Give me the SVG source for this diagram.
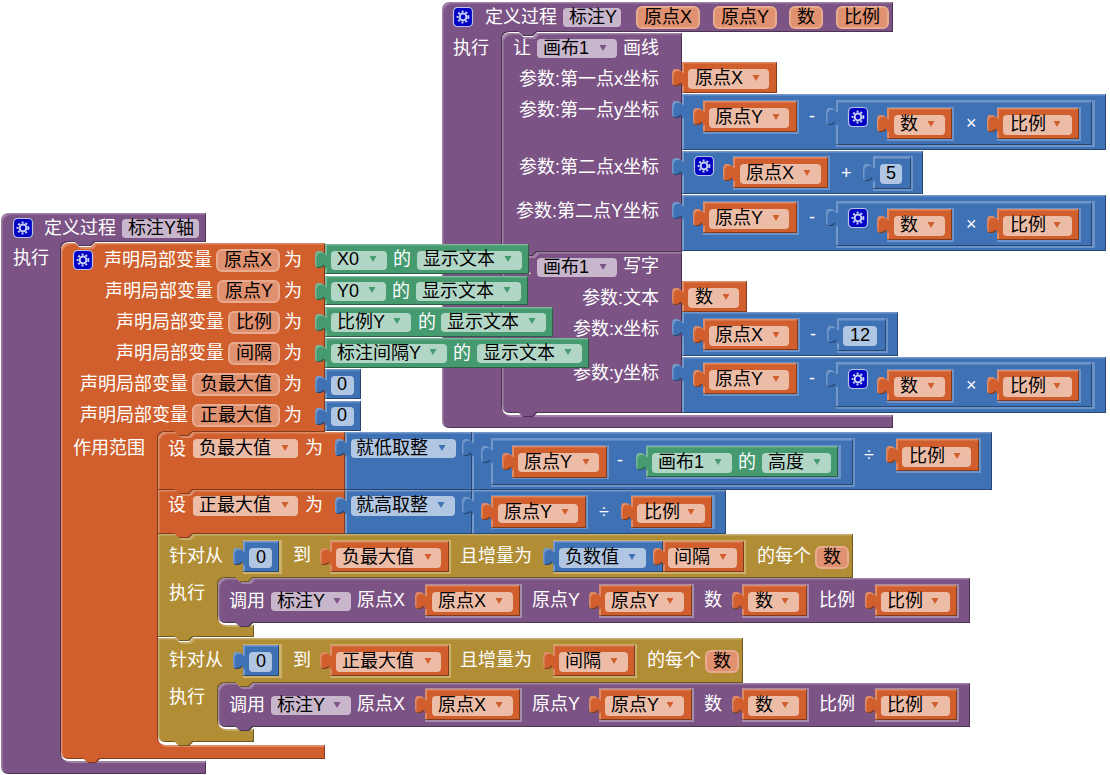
<svg xmlns="http://www.w3.org/2000/svg" width="1110" height="775" viewBox="0 0 1110 775">
<style>
text{font:18px "Liberation Sans","Noto Sans CJK SC",sans-serif;fill:#fff}
text.k{fill:#000}
.b{filter:url(#f)}
.p{fill:#7c5385}.o{fill:#d05f2d}.l{fill:#3f71b5}.g{fill:#459a70}.y{fill:#b18e35}
.rl{fill:#6b93c9}.rp{fill:#a68cac}.ry{fill:#cbb06c}
.cp{fill:#c8b6cc}.co{fill:#ecbca6}.cl{fill:#b1c6e2}.cg{fill:#b2d6c5}
.vo{fill:#df9170;stroke:#e9ab90;stroke-width:2}
.ap{fill:#7c5385}.ao{fill:#d05f2d}.al{fill:#3f71b5}.ag{fill:#459a70}
.gb{fill:#0000c4;stroke:#b9c3ea;stroke-width:1.2}
.gr{fill:none;stroke:#c9d2f5;stroke-width:2}
.gt{fill:none;stroke:#c9d2f5;stroke-width:2;stroke-dasharray:2 1.9}
</style>
<defs>
<filter id="f" x="-3%" y="-3%" width="106%" height="106%" color-interpolation-filters="sRGB">
<feOffset in="SourceAlpha" dx="1.5" dy="1.5" result="o1"/>
<feComposite in="SourceAlpha" in2="o1" operator="out" result="e1"/>
<feFlood flood-color="#fff" flood-opacity=".28"/>
<feComposite in2="e1" operator="in" result="li"/>
<feOffset in="SourceAlpha" dx="-1" dy="-1" result="o2"/>
<feComposite in="SourceAlpha" in2="o2" operator="out" result="e2"/>
<feFlood flood-color="#000" flood-opacity=".38"/>
<feComposite in2="e2" operator="in" result="da"/>
<feMerge><feMergeNode in="SourceGraphic"/><feMergeNode in="li"/><feMergeNode in="da"/></feMerge>
</filter>
<path id="t" d="M1 10C-1 10-2 7-5 7H-7C-9 7-10 9-10 12V19C-10 22-9 24-7 24H-5C-2 24-1 21 1 21Z"/>
<path id="a" d="M-3.5 0H3.5L0 6Z"/>
<g id="gear"><rect class="gb" x=".5" y=".5" width="19" height="19" rx="4"/><circle class="gr" cx="10" cy="10" r="3.4"/><circle class="gt" cx="10" cy="10" r="5.4"/></g>
</defs>

<g id="proc-biaozhuY">
<path class="p b" d="M450 2H893V32H537l-4 4h-10l-4-4H510Q502 32 502 40V407Q502 415 510 415H893V428H450Q442 428 442 420V10Q442 2 450 2Z"/>
<use href="#gear" x="453" y="7"/>
<text x="485" y="23">定义过程</text>
<rect class="cp" x="563" y="8" width="58" height="19" rx="4"/><text class="k" x="569" y="23">标注Y</text>
<rect class="vo" x="637" y="7" width="62" height="21" rx="5"/><text class="k" x="644" y="23">原点X</text>
<rect class="vo" x="714" y="7" width="62" height="21" rx="5"/><text class="k" x="721" y="23">原点Y</text>
<rect class="vo" x="790" y="7" width="32" height="21" rx="5"/><text class="k" x="797" y="23">数</text>
<rect class="vo" x="837" y="7" width="51" height="21" rx="5"/><text class="k" x="844" y="23">比例</text>
<text x="453" y="54">执行</text>
</g>

<g id="call-write">
<path class="p b" d="M510 252H519l4 4h10l4-4H682V413H537l-4 4h-10l-4-4H510Q502 413 502 405V260Q502 252 510 252Z"/>
<text x="513" y="273">让</text>
<rect class="cp" x="537" y="258" width="80" height="19" rx="4"/><use href="#a" class="ap" x="603" y="264"/><text class="k" x="543" y="273">画布1</text>
<text x="623" y="272">写字</text>
<text x="659" y="304" text-anchor="end">参数:文本</text>
<text x="659" y="335" text-anchor="end">参数:x坐标</text>
<text x="659" y="379" text-anchor="end">参数:y坐标</text>
</g>

<g id="call-line">
<path class="p b" d="M510 33H519l4 4h10l4-4H682V252H537l-4 4h-10l-4-4H502V41Q502 33 510 33Z"/>
<text x="513" y="54">让</text>
<rect class="cp" x="537" y="39" width="80" height="19" rx="4"/><use href="#a" class="ap" x="603" y="45"/><text class="k" x="543" y="54">画布1</text>
<text x="623" y="54">画线</text>
<text x="659" y="85" text-anchor="end">参数:第一点x坐标</text>
<text x="659" y="116" text-anchor="end">参数:第一点y坐标</text>
<text x="659" y="173" text-anchor="end">参数:第二点x坐标</text>
<text x="659" y="217" text-anchor="end">参数:第二点Y坐标</text>
</g>

<g id="line-x1" transform="translate(682,62)"><g class="o b"><use href="#t"/><rect width="95" height="31"/></g><rect class="co" x="6" y="7" width="81" height="20" rx="4"/><use href="#a" class="ao" x="74" y="13"/><text class="k" x="13" y="22">原点X</text></g>

<g id="line-y1">
<g class="l b"><use href="#t" x="682" y="94"/><rect x="682" y="94" width="424" height="56"/></g>
<g transform="translate(703,101)"><rect class="rl" y="-1" width="96" height="34"/><g class="o b"><use href="#t"/><rect width="94" height="31"/></g><rect class="co" x="6" y="7" width="80" height="20" rx="4"/><use href="#a" class="ao" x="73" y="13"/><text class="k" x="12" y="22">原点Y</text></g>
<text x="809" y="122">-</text>
<rect class="rl" x="836" y="100" width="259" height="47"/>
<g class="l b"><use href="#t" x="836" y="101"/><rect x="836" y="101" width="256" height="44"/></g>
<use href="#gear" x="848" y="107"/>
<g transform="translate(887,108)"><rect class="rl" y="-1" width="67" height="34"/><g class="o b"><use href="#t"/><rect width="65" height="31"/></g><rect class="co" x="7" y="7" width="51" height="20" rx="4"/><use href="#a" class="ao" x="44" y="13"/><text class="k" x="13" y="22">数</text></g>
<text x="966" y="129">×</text>
<g transform="translate(997,108)"><rect class="rl" y="-1" width="84" height="34"/><g class="o b"><use href="#t"/><rect width="82" height="31"/></g><rect class="co" x="6" y="7" width="69" height="20" rx="4"/><use href="#a" class="ao" x="60" y="13"/><text class="k" x="13" y="22">比例</text></g>
</g>

<g id="line-x2">
<g class="l b"><use href="#t" x="682" y="151"/><rect x="682" y="151" width="241" height="43"/></g>
<use href="#gear" x="694" y="156"/>
<g transform="translate(733,157)"><rect class="rl" y="-1" width="97" height="34"/><g class="o b"><use href="#t"/><rect width="95" height="31"/></g><rect class="co" x="7" y="7" width="81" height="20" rx="4"/><use href="#a" class="ao" x="74" y="13"/><text class="k" x="13" y="22">原点X</text></g>
<text x="841" y="179">+</text>
<rect class="rl" x="873" y="156" width="40" height="35"/>
<g class="l b"><use href="#t" x="873" y="157"/><rect x="873" y="157" width="38" height="32"/></g>
<rect class="cl" x="880" y="164" width="22" height="20" rx="4"/><text class="k" x="886" y="179">5</text>
</g>

<g id="line-y2">
<g class="l b"><use href="#t" x="682" y="195"/><rect x="682" y="195" width="424" height="56"/></g>
<g transform="translate(703,202)"><rect class="rl" y="-1" width="96" height="34"/><g class="o b"><use href="#t"/><rect width="94" height="31"/></g><rect class="co" x="6" y="7" width="80" height="20" rx="4"/><use href="#a" class="ao" x="73" y="13"/><text class="k" x="12" y="22">原点Y</text></g>
<text x="809" y="223">-</text>
<rect class="rl" x="836" y="201" width="259" height="47"/>
<g class="l b"><use href="#t" x="836" y="202"/><rect x="836" y="202" width="256" height="44"/></g>
<use href="#gear" x="848" y="208"/>
<g transform="translate(887,209)"><rect class="rl" y="-1" width="67" height="34"/><g class="o b"><use href="#t"/><rect width="65" height="31"/></g><rect class="co" x="7" y="7" width="51" height="20" rx="4"/><use href="#a" class="ao" x="44" y="13"/><text class="k" x="13" y="22">数</text></g>
<text x="966" y="230">×</text>
<g transform="translate(997,209)"><rect class="rl" y="-1" width="84" height="34"/><g class="o b"><use href="#t"/><rect width="82" height="31"/></g><rect class="co" x="6" y="7" width="69" height="20" rx="4"/><use href="#a" class="ao" x="60" y="13"/><text class="k" x="13" y="22">比例</text></g>
</g>

<g id="write-text" transform="translate(682,281)"><g class="o b"><use href="#t"/><rect width="65" height="31"/></g><rect class="co" x="6" y="7" width="51" height="20" rx="4"/><use href="#a" class="ao" x="44" y="13"/><text class="k" x="13" y="22">数</text></g>

<g id="write-x">
<g class="l b"><use href="#t" x="682" y="312"/><rect x="682" y="312" width="216" height="44"/></g>
<g transform="translate(703,319)"><rect class="rl" y="-1" width="97" height="34"/><g class="o b"><use href="#t"/><rect width="95" height="31"/></g><rect class="co" x="6" y="7" width="80" height="20" rx="4"/><use href="#a" class="ao" x="73" y="13"/><text class="k" x="12" y="22">原点X</text></g>
<text x="810" y="340">-</text>
<rect class="rl" x="837" y="318" width="51" height="35"/>
<g class="l b"><use href="#t" x="837" y="319"/><rect x="837" y="319" width="49" height="32"/></g>
<rect class="cl" x="843" y="326" width="34" height="20" rx="4"/><text class="k" x="850" y="341">12</text>
</g>

<g id="write-y">
<g class="l b"><use href="#t" x="682" y="357"/><rect x="682" y="357" width="424" height="56"/></g>
<g transform="translate(703,363)"><rect class="rl" y="-1" width="96" height="34"/><g class="o b"><use href="#t"/><rect width="94" height="31"/></g><rect class="co" x="6" y="7" width="80" height="20" rx="4"/><use href="#a" class="ao" x="73" y="13"/><text class="k" x="12" y="22">原点Y</text></g>
<text x="809" y="384">-</text>
<rect class="rl" x="836" y="362" width="259" height="47"/>
<g class="l b"><use href="#t" x="836" y="363"/><rect x="836" y="363" width="256" height="44"/></g>
<use href="#gear" x="848" y="369"/>
<g transform="translate(887,370)"><rect class="rl" y="-1" width="67" height="34"/><g class="o b"><use href="#t"/><rect width="65" height="31"/></g><rect class="co" x="7" y="7" width="51" height="20" rx="4"/><use href="#a" class="ao" x="44" y="13"/><text class="k" x="13" y="22">数</text></g>
<text x="966" y="391">×</text>
<g transform="translate(997,370)"><rect class="rl" y="-1" width="84" height="34"/><g class="o b"><use href="#t"/><rect width="82" height="31"/></g><rect class="co" x="6" y="7" width="69" height="20" rx="4"/><use href="#a" class="ao" x="60" y="13"/><text class="k" x="13" y="22">比例</text></g>
</g>

<g id="proc-biaozhuYzhou">
<path class="p b" d="M9 213H206V242H95l-4 4h-12l-4-4H69Q61 242 61 250V753Q61 761 69 761H206V774H9Q1 774 1 766V221Q1 213 9 213Z"/>
<use href="#gear" x="13" y="218"/>
<text x="44" y="234">定义过程</text>
<rect class="cp" x="122" y="219" width="77" height="19" rx="4"/><text class="k" x="128" y="234">标注Y轴</text>
<text x="13" y="264">执行</text>
</g>

<g id="local-vars">
<path class="o b" d="M69 243H75l4 4h12l4-4H325V432H193l-4 4h-10l-4-4H166Q158 432 158 440V737Q158 745 166 745H325V759H100l-4 4h-8l-4-4H69Q61 759 61 751V251Q61 243 69 243Z"/>
<use href="#gear" x="73" y="250"/>
<text x="104" y="266">声明局部变量</text>
<rect class="vo" x="217" y="250" width="62" height="21" rx="5"/><text class="k" x="224" y="266">原点X</text><text x="284" y="266">为</text>
<text x="105" y="297">声明局部变量</text>
<rect class="vo" x="218" y="281" width="61" height="21" rx="5"/><text class="k" x="225" y="297">原点Y</text><text x="284" y="297">为</text>
<text x="116" y="328">声明局部变量</text>
<rect class="vo" x="229" y="312" width="50" height="21" rx="5"/><text class="k" x="236" y="328">比例</text><text x="284" y="328">为</text>
<text x="116" y="359">声明局部变量</text>
<rect class="vo" x="229" y="343" width="50" height="21" rx="5"/><text class="k" x="236" y="359">间隔</text><text x="284" y="359">为</text>
<text x="80" y="390">声明局部变量</text>
<rect class="vo" x="193" y="374" width="86" height="21" rx="5"/><text class="k" x="200" y="390">负最大值</text><text x="284" y="390">为</text>
<text x="80" y="421">声明局部变量</text>
<rect class="vo" x="193" y="405" width="86" height="21" rx="5"/><text class="k" x="200" y="421">正最大值</text><text x="284" y="421">为</text>
<text x="73" y="454">作用范围</text>
</g>

<g id="prop-x0" transform="translate(325,244)"><g class="g b"><use href="#t"/><rect width="204" height="30"/></g><rect class="cg" x="6" y="7" width="56" height="19" rx="4"/><use href="#a" class="ag" x="48" y="12"/><text class="k" x="12" y="21">X0</text><text x="68" y="21">的</text><rect class="cg" x="92" y="7" width="105" height="19" rx="4"/><use href="#a" class="ag" x="183" y="12"/><text class="k" x="98" y="21">显示文本</text></g>
<g id="prop-y0" transform="translate(325,276)"><g class="g b"><use href="#t"/><rect width="203" height="29"/></g><rect class="cg" x="6" y="6" width="55" height="19" rx="4"/><use href="#a" class="ag" x="47" y="11"/><text class="k" x="12" y="21">Y0</text><text x="67" y="21">的</text><rect class="cg" x="91" y="6" width="105" height="19" rx="4"/><use href="#a" class="ag" x="182" y="11"/><text class="k" x="97" y="21">显示文本</text></g>
<g id="prop-bili" transform="translate(325,307)"><g class="g b"><use href="#t"/><rect width="228" height="30"/></g><rect class="cg" x="6" y="6" width="80" height="19" rx="4"/><use href="#a" class="ag" x="72" y="11"/><text class="k" x="12" y="21">比例Y</text><text x="93" y="21">的</text><rect class="cg" x="116" y="6" width="105" height="19" rx="4"/><use href="#a" class="ag" x="207" y="11"/><text class="k" x="122" y="21">显示文本</text></g>
<g id="prop-jiange" transform="translate(325,338)"><g class="g b"><use href="#t"/><rect width="264" height="30"/></g><rect class="cg" x="6" y="6" width="116" height="19" rx="4"/><use href="#a" class="ag" x="108" y="11"/><text class="k" x="12" y="21">标注间隔Y</text><text x="128" y="21">的</text><rect class="cg" x="152" y="6" width="105" height="19" rx="4"/><use href="#a" class="ag" x="243" y="11"/><text class="k" x="158" y="21">显示文本</text></g>
<g id="num-neg" transform="translate(325,369)"><g class="l b"><use href="#t"/><rect width="36" height="30"/></g><rect class="cl" x="6" y="7" width="23" height="19" rx="4"/><text class="k" x="12" y="21">0</text></g>
<g id="num-pos" transform="translate(325,401)"><g class="l b"><use href="#t"/><rect width="36" height="30"/></g><rect class="cl" x="6" y="6" width="23" height="19" rx="4"/><text class="k" x="12" y="20">0</text></g>

<g id="loop-2">
<path class="y b" d="M158 638H175l4 4h10l4-4H743V683H253l-4 4h-9l-4-4H226Q218 683 218 691V721Q218 729 226 729H254V742H193l-4 4h-10l-4-4H166Q158 742 158 734Z"/>
<text x="169" y="666">针对从</text>
<g transform="translate(243,645)"><rect class="ry" y="-1" width="39" height="34"/><g class="l b"><use href="#t"/><rect width="36" height="31"/></g><rect class="cl" x="6" y="7" width="23" height="20" rx="4"/><text class="k" x="13" y="22">0</text></g>
<text x="293" y="666">到</text>
<g transform="translate(330,645)"><rect class="ry" y="-1" width="121" height="34"/><g class="o b"><use href="#t"/><rect width="119" height="31"/></g><rect class="co" x="6" y="7" width="105" height="20" rx="4"/><use href="#a" class="ao" x="98" y="13"/><text class="k" x="12" y="22">正最大值</text></g>
<text x="460" y="666">且增量为</text>
<g transform="translate(553,645)"><rect class="ry" y="-1" width="84" height="34"/><g class="o b"><use href="#t"/><rect width="82" height="31"/></g><rect class="co" x="6" y="7" width="69" height="20" rx="4"/><use href="#a" class="ao" x="61" y="13"/><text class="k" x="12" y="22">间隔</text></g>
<text x="647" y="666">的每个</text>
<rect class="vo" x="706" y="651" width="32" height="21" rx="5"/><text class="k" x="713" y="667">数</text>
<text x="169" y="703">执行</text>
</g>

<g id="loop-1">
<path class="y b" d="M158 534H175l4 4h10l4-4H853V578H253l-4 4h-9l-4-4H226Q218 578 218 586V617Q218 625 226 625H254V637H193l-4 4h-10l-4-4H158Z"/>
<text x="169" y="562">针对从</text>
<g transform="translate(243,541)"><rect class="ry" y="-1" width="39" height="34"/><g class="l b"><use href="#t"/><rect width="36" height="31"/></g><rect class="cl" x="6" y="7" width="23" height="20" rx="4"/><text class="k" x="13" y="22">0</text></g>
<text x="293" y="561">到</text>
<g transform="translate(330,541)"><rect class="ry" y="-1" width="121" height="34"/><g class="o b"><use href="#t"/><rect width="119" height="31"/></g><rect class="co" x="6" y="7" width="105" height="20" rx="4"/><use href="#a" class="ao" x="98" y="13"/><text class="k" x="12" y="22">负最大值</text></g>
<text x="460" y="562">且增量为</text>
<rect class="ry" x="553" y="540" width="193" height="34"/>
<g transform="translate(553,541)"><g class="l b"><use href="#t"/><rect width="110" height="31"/></g><rect class="cl" x="6" y="7" width="87" height="20" rx="4"/><use href="#a" class="al" x="79" y="13"/><text class="k" x="12" y="22">负数值</text></g>
<g transform="translate(663,541)"><g class="o b"><use href="#t"/><rect width="81" height="31"/></g><rect class="co" x="5" y="7" width="69" height="20" rx="4"/><use href="#a" class="ao" x="60" y="13"/><text class="k" x="11" y="22">间隔</text></g>
<text x="757" y="562">的每个</text>
<rect class="vo" x="816" y="547" width="32" height="21" rx="5"/><text class="k" x="823" y="563">数</text>
<text x="169" y="599">执行</text>
</g>

<g id="call-1">
<path class="p b" d="M226 578H236l4 4h9l4-4H970V623H253l-4 4h-9l-4-4H226Q218 623 218 615V586Q218 578 226 578Z"/>
<text x="229" y="607">调用</text>
<rect class="cp" x="271" y="592" width="80" height="19" rx="4"/><use href="#a" class="ap" x="337" y="598"/><text class="k" x="277" y="607">标注Y</text>
<text x="357" y="606">原点X</text>
<g transform="translate(425,585)"><rect class="rp" y="-1" width="97" height="34"/><g class="o b"><use href="#t"/><rect width="95" height="31"/></g><rect class="co" x="7" y="7" width="81" height="20" rx="4"/><use href="#a" class="ao" x="74" y="13"/><text class="k" x="13" y="22">原点X</text></g>
<text x="532" y="606">原点Y</text>
<g transform="translate(599,585)"><rect class="rp" y="-1" width="95" height="34"/><g class="o b"><use href="#t"/><rect width="93" height="31"/></g><rect class="co" x="6" y="7" width="79" height="20" rx="4"/><use href="#a" class="ao" x="71" y="13"/><text class="k" x="12" y="22">原点Y</text></g>
<text x="704" y="606">数</text>
<g transform="translate(742,585)"><rect class="rp" y="-1" width="67" height="34"/><g class="o b"><use href="#t"/><rect width="65" height="31"/></g><rect class="co" x="6" y="7" width="51" height="20" rx="4"/><use href="#a" class="ao" x="43" y="13"/><text class="k" x="13" y="22">数</text></g>
<text x="819" y="606">比例</text>
<g transform="translate(875,585)"><rect class="rp" y="-1" width="84" height="34"/><g class="o b"><use href="#t"/><rect width="82" height="31"/></g><rect class="co" x="6" y="7" width="69" height="20" rx="4"/><use href="#a" class="ao" x="60" y="13"/><text class="k" x="12" y="22">比例</text></g>
</g>

<g id="call-2">
<path class="p b" d="M226 683H236l4 4h9l4-4H970V727H253l-4 4h-9l-4-4H226Q218 727 218 719V691Q218 683 226 683Z"/>
<text x="229" y="711">调用</text>
<rect class="cp" x="271" y="696" width="80" height="19" rx="4"/><use href="#a" class="ap" x="337" y="702"/><text class="k" x="277" y="711">标注Y</text>
<text x="357" y="710">原点X</text>
<g transform="translate(425,689)"><rect class="rp" y="-1" width="97" height="34"/><g class="o b"><use href="#t"/><rect width="95" height="31"/></g><rect class="co" x="7" y="7" width="81" height="20" rx="4"/><use href="#a" class="ao" x="74" y="13"/><text class="k" x="13" y="22">原点X</text></g>
<text x="532" y="710">原点Y</text>
<g transform="translate(599,689)"><rect class="rp" y="-1" width="95" height="34"/><g class="o b"><use href="#t"/><rect width="93" height="31"/></g><rect class="co" x="6" y="7" width="79" height="20" rx="4"/><use href="#a" class="ao" x="71" y="13"/><text class="k" x="12" y="22">原点Y</text></g>
<text x="704" y="710">数</text>
<g transform="translate(742,689)"><rect class="rp" y="-1" width="67" height="34"/><g class="o b"><use href="#t"/><rect width="65" height="31"/></g><rect class="co" x="6" y="7" width="51" height="20" rx="4"/><use href="#a" class="ao" x="43" y="13"/><text class="k" x="13" y="22">数</text></g>
<text x="819" y="710">比例</text>
<g transform="translate(875,689)"><rect class="rp" y="-1" width="84" height="34"/><g class="o b"><use href="#t"/><rect width="82" height="31"/></g><rect class="co" x="6" y="7" width="69" height="20" rx="4"/><use href="#a" class="ao" x="60" y="13"/><text class="k" x="12" y="22">比例</text></g>
</g>

<g id="set-pos">
<path class="o b" d="M158 490H175l4 4h10l4-4H345V534H193l-4 4h-10l-4-4H158Z"/>
<text x="168" y="511">设</text>
<rect class="co" x="193" y="496" width="105" height="20" rx="4"/><use href="#a" class="ao" x="285" y="502"/><text class="k" x="199" y="511">正最大值</text>
<text x="305" y="511">为</text>
<g class="l b"><use href="#t" x="345" y="490"/><rect x="345" y="490" width="127" height="44"/></g>
<rect class="cl" x="351" y="496" width="104" height="20" rx="4"/><use href="#a" class="al" x="441" y="502"/><text class="k" x="356" y="511">就高取整</text>
<g class="l b"><use href="#t" x="472" y="490"/><rect x="472" y="490" width="254" height="44"/></g>
<g transform="translate(491,496)"><rect class="rl" y="-1" width="97" height="34"/><g class="o b"><use href="#t"/><rect width="95" height="32"/></g><rect class="co" x="7" y="8" width="80" height="19" rx="4"/><use href="#a" class="ao" x="74" y="13"/><text class="k" x="13" y="22">原点Y</text></g>
<text x="599" y="518">÷</text>
<g transform="translate(631,496)"><rect class="rl" y="-1" width="84" height="34"/><g class="o b"><use href="#t"/><rect width="81" height="32"/></g><rect class="co" x="6" y="8" width="68" height="19" rx="4"/><use href="#a" class="ao" x="60" y="13"/><text class="k" x="13" y="22">比例</text></g>
</g>

<g id="set-neg">
<path class="o b" d="M166 432H175l4 4h10l4-4H345V490H193l-4 4h-10l-4-4H158V440Q158 432 166 432Z"/>
<text x="168" y="455">设</text>
<rect class="co" x="193" y="439" width="105" height="19" rx="4"/><use href="#a" class="ao" x="285" y="445"/><text class="k" x="199" y="454">负最大值</text>
<text x="305" y="454">为</text>
<g class="l b"><use href="#t" x="345" y="432"/><rect x="345" y="432" width="127" height="58"/></g>
<rect class="cl" x="351" y="439" width="105" height="19" rx="4"/><use href="#a" class="al" x="442" y="445"/><text class="k" x="356" y="454">就低取整</text>
<g class="l b"><use href="#t" x="472" y="432"/><rect x="472" y="432" width="520" height="58"/></g>
<rect class="rl" x="491" y="438" width="364" height="49"/>
<g class="l b"><use href="#t" x="491" y="439"/><rect x="491" y="439" width="362" height="46"/></g>
<g transform="translate(512,446)"><rect class="rl" y="-1" width="97" height="34"/><g class="o b"><use href="#t"/><rect width="95" height="32"/></g><rect class="co" x="6" y="7" width="81" height="19" rx="4"/><use href="#a" class="ao" x="74" y="13"/><text class="k" x="12" y="22">原点Y</text></g>
<text x="617" y="466">-</text>
<rect class="rl" x="646" y="445" width="195" height="34"/>
<g transform="translate(646,446)"><g class="g b"><use href="#t"/><rect width="192" height="31"/></g><rect class="cg" x="6" y="7" width="80" height="20" rx="4"/><use href="#a" class="ag" x="72" y="13"/><text class="k" x="12" y="22">画布1</text><text x="92" y="22">的</text><rect class="cg" x="116" y="7" width="69" height="20" rx="4"/><use href="#a" class="ag" x="171" y="13"/><text class="k" x="122" y="22">高度</text></g>
<text x="864" y="461">÷</text>
<g transform="translate(896,439)"><rect class="rl" y="-1" width="85" height="35"/><g class="o b"><use href="#t"/><rect width="83" height="32"/></g><rect class="co" x="6" y="8" width="69" height="20" rx="4"/><use href="#a" class="ao" x="61" y="14"/><text class="k" x="13" y="23">比例</text></g>
</g>
</svg>
